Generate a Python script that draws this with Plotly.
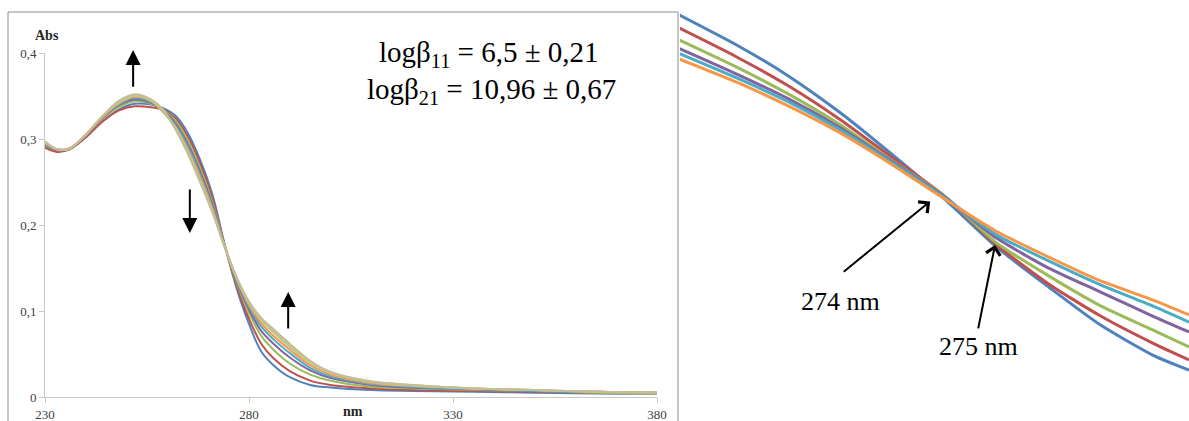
import plotly.graph_objects as go

# ---------------- data: left panel (UV-vis spectra) ----------------
WL = [230, 233, 236, 240, 244, 248, 252, 256, 259, 262, 265, 268, 271, 274, 277,
      280, 283, 286, 290, 295, 300, 310, 320, 335, 350, 365, 380]

S_BLUE = [0.292, 0.286, 0.288, 0.302, 0.320, 0.334, 0.341, 0.340, 0.336, 0.327, 0.307, 0.276, 0.236, 0.178, 0.126,
          0.085, 0.053, 0.037, 0.023, 0.014, 0.011, 0.008, 0.007, 0.006, 0.005, 0.004, 0.004]
S_RED = [0.290, 0.285, 0.288, 0.302, 0.320, 0.333, 0.338, 0.337, 0.334, 0.324, 0.303, 0.272, 0.232, 0.177, 0.129,
         0.091, 0.062, 0.045, 0.030, 0.019, 0.014, 0.010, 0.008, 0.007, 0.006, 0.005, 0.004]
S_GREEN = [0.293, 0.287, 0.289, 0.304, 0.323, 0.337, 0.344, 0.341, 0.334, 0.321, 0.298, 0.266, 0.227, 0.177, 0.132,
           0.098, 0.071, 0.055, 0.039, 0.026, 0.019, 0.012, 0.010, 0.008, 0.007, 0.005, 0.004]
S_PURPLE = [0.294, 0.287, 0.289, 0.304, 0.324, 0.339, 0.346, 0.342, 0.333, 0.318, 0.294, 0.262, 0.224, 0.176, 0.134,
            0.102, 0.077, 0.062, 0.046, 0.031, 0.022, 0.014, 0.011, 0.009, 0.007, 0.006, 0.005]
S_CYAN = [0.295, 0.288, 0.289, 0.305, 0.325, 0.340, 0.348, 0.343, 0.332, 0.316, 0.291, 0.259, 0.221, 0.176, 0.136,
          0.105, 0.082, 0.067, 0.051, 0.034, 0.024, 0.015, 0.012, 0.009, 0.007, 0.006, 0.005]
S_ORANGE = [0.296, 0.288, 0.289, 0.305, 0.325, 0.341, 0.349, 0.344, 0.331, 0.314, 0.288, 0.256, 0.219, 0.176, 0.137,
            0.107, 0.086, 0.071, 0.055, 0.037, 0.026, 0.016, 0.013, 0.010, 0.008, 0.006, 0.005]
S_OLIVE1 = [0.296, 0.288, 0.289, 0.305, 0.326, 0.342, 0.350, 0.345, 0.331, 0.313, 0.286, 0.253, 0.217, 0.175, 0.138,
            0.109, 0.089, 0.075, 0.058, 0.040, 0.028, 0.017, 0.013, 0.010, 0.008, 0.006, 0.005]
S_OLIVE2 = [0.297, 0.288, 0.289, 0.305, 0.326, 0.343, 0.351, 0.345, 0.332, 0.312, 0.284, 0.251, 0.216, 0.175, 0.138,
            0.110, 0.091, 0.077, 0.060, 0.041, 0.029, 0.018, 0.014, 0.010, 0.008, 0.006, 0.005]
S_TAN = [0.297, 0.288, 0.289, 0.305, 0.326, 0.344, 0.352, 0.346, 0.334, 0.311, 0.283, 0.250, 0.215, 0.175, 0.139,
         0.111, 0.092, 0.079, 0.062, 0.042, 0.029, 0.018, 0.014, 0.010, 0.008, 0.006, 0.005]

LEFT_SERIES = [S_BLUE, S_RED, S_GREEN, S_PURPLE, S_CYAN, S_ORANGE, S_OLIVE1, S_OLIVE2, S_TAN]
LEFT_COLORS = ["#4F81BD", "#C0504D", "#9BBB59", "#8064A2", "#4BACC6", "#F79646",
               "#C9C58F", "#BCC78C", "#C4BD97"]

X_TICKS = [230, 280, 330, 380]
Y_TICKS = [0, 0.1, 0.2, 0.3, 0.4]
Y_TICKTEXT = ["0", "0,1", "0,2", "0,3", "0,4"]

# ---------------- data: right panel (zoom on isosbestic points) ----------------
RWL = [268.9, 270, 271, 272, 273, 274, 275, 276, 277, 278, 278.7]
Z_BLUE = [0.2267, 0.2167, 0.2063, 0.1940, 0.1800, 0.1653, 0.1493, 0.1360, 0.1233, 0.1133, 0.1083]
Z_RED = [0.2223, 0.2127, 0.2030, 0.1917, 0.1790, 0.1663, 0.1500, 0.1370, 0.1263, 0.1173, 0.1117]
Z_GREEN = [0.2183, 0.2093, 0.2003, 0.1900, 0.1780, 0.1663, 0.1507, 0.1397, 0.1297, 0.1217, 0.1160]
Z_PURPLE = [0.2155, 0.2070, 0.1987, 0.1890, 0.1777, 0.1660, 0.1523, 0.1423, 0.1343, 0.1263, 0.1210]
Z_CYAN = [0.2138, 0.2057, 0.1977, 0.1883, 0.1773, 0.1657, 0.1533, 0.1447, 0.1367, 0.1297, 0.1243]
Z_ORANGE = [0.2120, 0.2043, 0.1963, 0.1873, 0.1767, 0.1653, 0.1545, 0.1460, 0.1380, 0.1317, 0.1267]
RIGHT_SERIES = [Z_BLUE, Z_RED, Z_GREEN, Z_PURPLE, Z_CYAN, Z_ORANGE]
RIGHT_COLORS = ["#4F81BD", "#C0504D", "#9BBB59", "#8064A2", "#4BACC6", "#F79646"]

W, H = 1189, 421
SERIF = "Liberation Serif"

fig = go.Figure()
for ys, c in zip(LEFT_SERIES, LEFT_COLORS):
    fig.add_trace(go.Scatter(x=WL, y=ys, mode="lines", line=dict(color=c, width=2, shape="spline", smoothing=1),
                             xaxis="x", yaxis="y", showlegend=False, hoverinfo="skip"))
for ys, c in zip(RIGHT_SERIES, RIGHT_COLORS):
    fig.add_trace(go.Scatter(x=RWL, y=ys, mode="lines", line=dict(color=c, width=3, shape="spline", smoothing=0.6),
                             xaxis="x2", yaxis="y2", showlegend=False, hoverinfo="skip"))

axcol = "#C8C8C8"
fig.update_layout(
    template="none",
    width=W, height=H, margin=dict(l=0, r=0, t=0, b=0, pad=0), autosize=False,
    paper_bgcolor="white", plot_bgcolor="rgba(0,0,0,0)",
    xaxis=dict(domain=[45 / W, 657 / W], range=[230, 380], tickvals=X_TICKS, ticks="outside", ticklen=5,
               tickcolor=axcol, showline=True, linecolor=axcol, linewidth=1, showgrid=False, zeroline=False,
               automargin=False, tickfont=dict(family=SERIF, size=13, color="#404040"), anchor="y"),
    yaxis=dict(domain=[1 - 397 / H, 1 - 53 / H], range=[0, 0.4], tickvals=Y_TICKS, ticktext=Y_TICKTEXT,
               ticks="outside", ticklen=5, tickcolor=axcol, showline=True, linecolor=axcol, linewidth=1,
               showgrid=False, zeroline=False, automargin=False,
               tickfont=dict(family=SERIF, size=13, color="#404040"), anchor="x"),
    xaxis2=dict(domain=[680 / W, 1], range=[268.91, 278.7], visible=False, automargin=False, anchor="y2"),
    yaxis2=dict(domain=[0, 1], range=[0.0913, 0.2317], visible=False, automargin=False, anchor="x2"),
)

# frame around left chart
fig.add_shape(type="rect", xref="paper", yref="paper", x0=8 / W, x1=678 / W, y0=-0.2, y1=1 - 12 / H,
              line=dict(color="#8C8C8C", width=1), layer="below")

ann = []
ann.append(dict(xref="paper", yref="paper", x=47 / W, y=1 - 35 / H, text="<b>Abs</b>", showarrow=False,
                font=dict(family=SERIF, size=14, color="#262626"), xanchor="center", yanchor="middle"))
ann.append(dict(xref="paper", yref="paper", x=353 / W, y=0.0, text="<b>nm</b>", showarrow=False,
                font=dict(family=SERIF, size=14, color="#262626"), xanchor="center", yanchor="bottom"))
ann.append(dict(xref="paper", yref="paper", x=489 / W, y=1 - 54 / H, text="logβ<sub>11</sub> = 6,5 ± 0,21",
                showarrow=False, font=dict(family=SERIF, size=29, color="black"), xanchor="center", yanchor="middle"))
ann.append(dict(xref="paper", yref="paper", x=491 / W, y=1 - 91 / H, text="logβ<sub>21</sub> = 10,96 ± 0,67",
                showarrow=False, font=dict(family=SERIF, size=29, color="black"), xanchor="center", yanchor="middle"))

# arrows in left chart (head x,y ; tail ax,ay)
for hx, hy, tx, ty in [(251.6, 0.4035, 251.6, 0.359), (265.5, 0.1907, 265.5, 0.243), (289.6, 0.122, 289.6, 0.0779)]:
    ann.append(dict(xref="x", yref="y", axref="x", ayref="y", x=hx, y=hy, ax=tx, ay=ty, text="",
                    showarrow=True, arrowhead=2, arrowsize=1.5, arrowwidth=2, arrowcolor="black"))

# right panel arrows and labels
ann.append(dict(xref="x2", yref="y2", axref="x2", ayref="y2", x=273.72, y=0.1645, ax=272.03, ay=0.1407, text="",
                showarrow=True, arrowhead=4, arrowsize=1.4, arrowwidth=2, arrowcolor="black"))
ann.append(dict(xref="x2", yref="y2", axref="x2", ayref="y2", x=274.97, y=0.150, ax=274.64, ay=0.1217, text="",
                showarrow=True, arrowhead=4, arrowsize=1.4, arrowwidth=2, arrowcolor="black"))
ann.append(dict(xref="x2", yref="y2", x=271.99, y=0.131, text="274 nm", showarrow=False,
                font=dict(family=SERIF, size=26, color="black"), xanchor="center", yanchor="middle"))
ann.append(dict(xref="x2", yref="y2", x=274.66, y=0.116, text="275 nm", showarrow=False,
                font=dict(family=SERIF, size=26, color="black"), xanchor="center", yanchor="middle"))
fig.update_layout(annotations=ann)

fig.write_html("out.html", config={"displayModeBar": False},
               post_script="document.body.style.margin='0';document.body.style.overflow='hidden';")
